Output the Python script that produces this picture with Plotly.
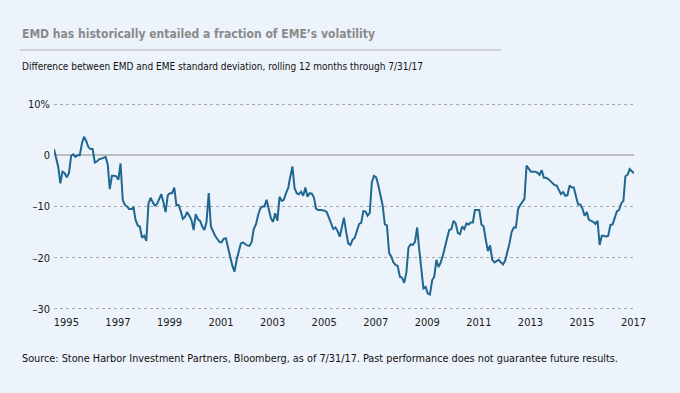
import plotly.graph_objects as go
import pandas as pd

# Monthly values, Jan 1995 .. Jul 2017 (EMD minus EME rolling 12m std dev, %)
start_month = "1995-01-01"
values = [
    1.2, -0.9, -2.2, -5.5, -3.2, -3.5, -4.3, -3.5, -0.1, 0.2, -0.3, 0.0,
    0.0, 2.3, 3.6, 2.8, 1.6, 1.2, 1.2, -1.4, -1.2, -0.8, -0.7, -0.5,
    -0.3, -1.9, -6.6, -4.0, -4.0, -4.1, -4.8, -1.6, -8.7, -9.7, -10.0, -10.5,
    -10.5, -10.2, -12.6, -13.7, -13.9, -16.1, -15.7, -16.7, -9.4, -8.3, -9.2, -9.8,
    -9.5, -8.5, -7.6, -9.2, -11.1, -7.8, -7.4, -7.4, -6.3, -9.7, -9.7, -10.9,
    -12.4, -12.0, -11.1, -11.8, -12.6, -14.6, -11.5, -12.5, -12.8, -13.9, -14.6, -13.0,
    -7.4, -13.9, -14.8, -15.7, -16.3, -16.9, -17.0, -16.3, -16.2, -18.2, -19.8, -21.5,
    -22.7, -20.4, -18.8, -17.2, -17.0, -17.4, -17.6, -17.7, -16.9, -14.4, -13.5, -11.7,
    -10.4, -10.0, -10.0, -8.7, -10.7, -12.3, -13.0, -11.3, -12.8, -8.1, -8.9, -8.7,
    -7.4, -6.4, -4.2, -2.2, -6.4, -7.4, -7.6, -7.1, -7.9, -6.3, -8.1, -7.4,
    -7.5, -8.3, -10.4, -10.7, -10.7, -10.7, -10.8, -11.1, -12.2, -13.1, -14.4, -14.1,
    -14.8, -15.9, -14.3, -12.2, -14.9, -17.2, -17.5, -16.5, -16.1, -14.5, -13.4, -13.2,
    -10.9, -11.0, -11.8, -11.3, -5.3, -4.0, -4.3, -5.9, -7.6, -9.8, -13.5, -13.7,
    -19.1, -19.8, -20.9, -21.4, -21.6, -23.7, -23.9, -24.9, -22.9, -18.0, -17.4, -17.5,
    -16.9, -14.1, -18.2, -22.1, -26.0, -25.7, -27.0, -27.2, -24.4, -23.7, -20.4, -21.8,
    -20.9, -19.5, -18.0, -15.8, -14.6, -14.4, -12.8, -13.3, -15.2, -15.4, -13.9, -14.4,
    -13.3, -13.5, -13.1, -13.1, -10.7, -10.7, -10.7, -13.5, -13.9, -16.5, -18.7, -17.6,
    -20.4, -20.9, -20.6, -20.4, -20.9, -21.3, -20.6, -19.1, -17.2, -15.0, -14.1, -14.1,
    -10.5, -9.7, -9.1, -8.5, -2.0, -2.5, -3.2, -3.2, -3.2, -3.4, -3.8, -2.9,
    -4.4, -4.4, -4.6, -5.0, -5.5, -5.8, -5.9, -6.8, -7.6, -7.2, -7.9, -7.8,
    -5.9, -6.3, -6.3, -8.0, -9.6, -9.6, -10.4, -11.8, -11.1, -12.6, -12.8, -13.0,
    -13.4, -12.8, -17.5, -15.7, -15.7, -15.9, -15.7, -13.6, -13.5, -12.4, -10.9, -10.7,
    -9.4, -8.9, -4.1, -3.8, -2.7, -3.1, -3.5,
]
dates = pd.date_range(start_month, periods=len(values), freq="MS")

tick_years = [1995, 1997, 1999, 2001, 2003, 2005, 2007, 2009, 2011, 2013, 2015, 2017]
y_tickvals = [10, 0, -10, -20, -30]
y_ticktext = ["10%", "0", "\u201310", "\u201320", "\u201330"]

title = "EMD has historically entailed a fraction of EME\u2019s volatility"
subtitle = "Difference between EMD and EME standard deviation, rolling 12 months through 7/31/17"
source = ("Source: Stone Harbor Investment Partners, Bloomberg, as of 7/31/17. "
          "Past performance does not guarantee future results.")

FONT = "DejaVu Sans Condensed, Liberation Sans, sans-serif"
BG = "#EDF3FA"

fig = go.Figure()
fig.add_trace(go.Scatter(
    x=dates, y=values, mode="lines",
    line=dict(color="#1F6791", width=2),
    hoverinfo="skip", showlegend=False,
))

W, H = 680, 393
L, R, T, B = 54, 46, 103, 83
pw = W - L - R
ph = H - T - B

def px_to_paper_x(px):
    return (px - L) / pw

def px_to_paper_y(py):
    return (H - B - py) / ph

fig.update_layout(
    width=W, height=H,
    margin=dict(l=L, r=R, t=T, b=B, pad=0),
    paper_bgcolor=BG, plot_bgcolor=BG,
    font=dict(family=FONT, size=11, color="#1a1a1a"),
    showlegend=False,
    xaxis=dict(
        type="date",
        range=[dates[0], dates[-1]],
        tickvals=[f"{y}-06-25" for y in tick_years],
        ticktext=[str(y) for y in tick_years],
        showgrid=False, zeroline=False, showline=False,
        ticks="", ticklabelstandoff=4,
        tickfont=dict(size=11, color="#1a1a1a"),
        fixedrange=True,
    ),
    yaxis=dict(
        range=[-30.2, 10.2],
        tickvals=y_tickvals, ticktext=y_ticktext,
        showgrid=True, gridcolor="#A9A9A9", griddash="dot", gridwidth=1,
        zeroline=True, zerolinecolor="#BDBDBD", zerolinewidth=2,
        showline=False, ticks="", ticklabelstandoff=3,
        tickfont=dict(size=11, color="#1a1a1a"),
        fixedrange=True,
    ),
    annotations=[
        dict(text=f"<b>{title}</b>", xref="paper", yref="paper",
             x=px_to_paper_x(20), y=px_to_paper_y(34), xanchor="left", yanchor="middle",
             showarrow=False, font=dict(family=FONT, size=12, color="#8A8A8A")),
        dict(text=subtitle, xref="paper", yref="paper",
             x=px_to_paper_x(20), y=px_to_paper_y(67), xanchor="left", yanchor="middle",
             showarrow=False, font=dict(family=FONT, size=10, color="#111111")),
        dict(text=source, xref="paper", yref="paper",
             x=px_to_paper_x(20), y=px_to_paper_y(358), xanchor="left", yanchor="middle",
             showarrow=False, font=dict(family=FONT, size=10.8, color="#111111")),
    ],
    shapes=[
        dict(type="line", xref="paper", yref="paper",
             x0=px_to_paper_x(20), x1=px_to_paper_x(501),
             y0=px_to_paper_y(50), y1=px_to_paper_y(50),
             line=dict(color="#AFAFAF", width=1)),
    ],
)

fig.write_html(
    "out.html",
    config={"displayModeBar": False, "staticPlot": True},
    post_script="document.body.style.margin='0';document.body.style.padding='0';",
)
